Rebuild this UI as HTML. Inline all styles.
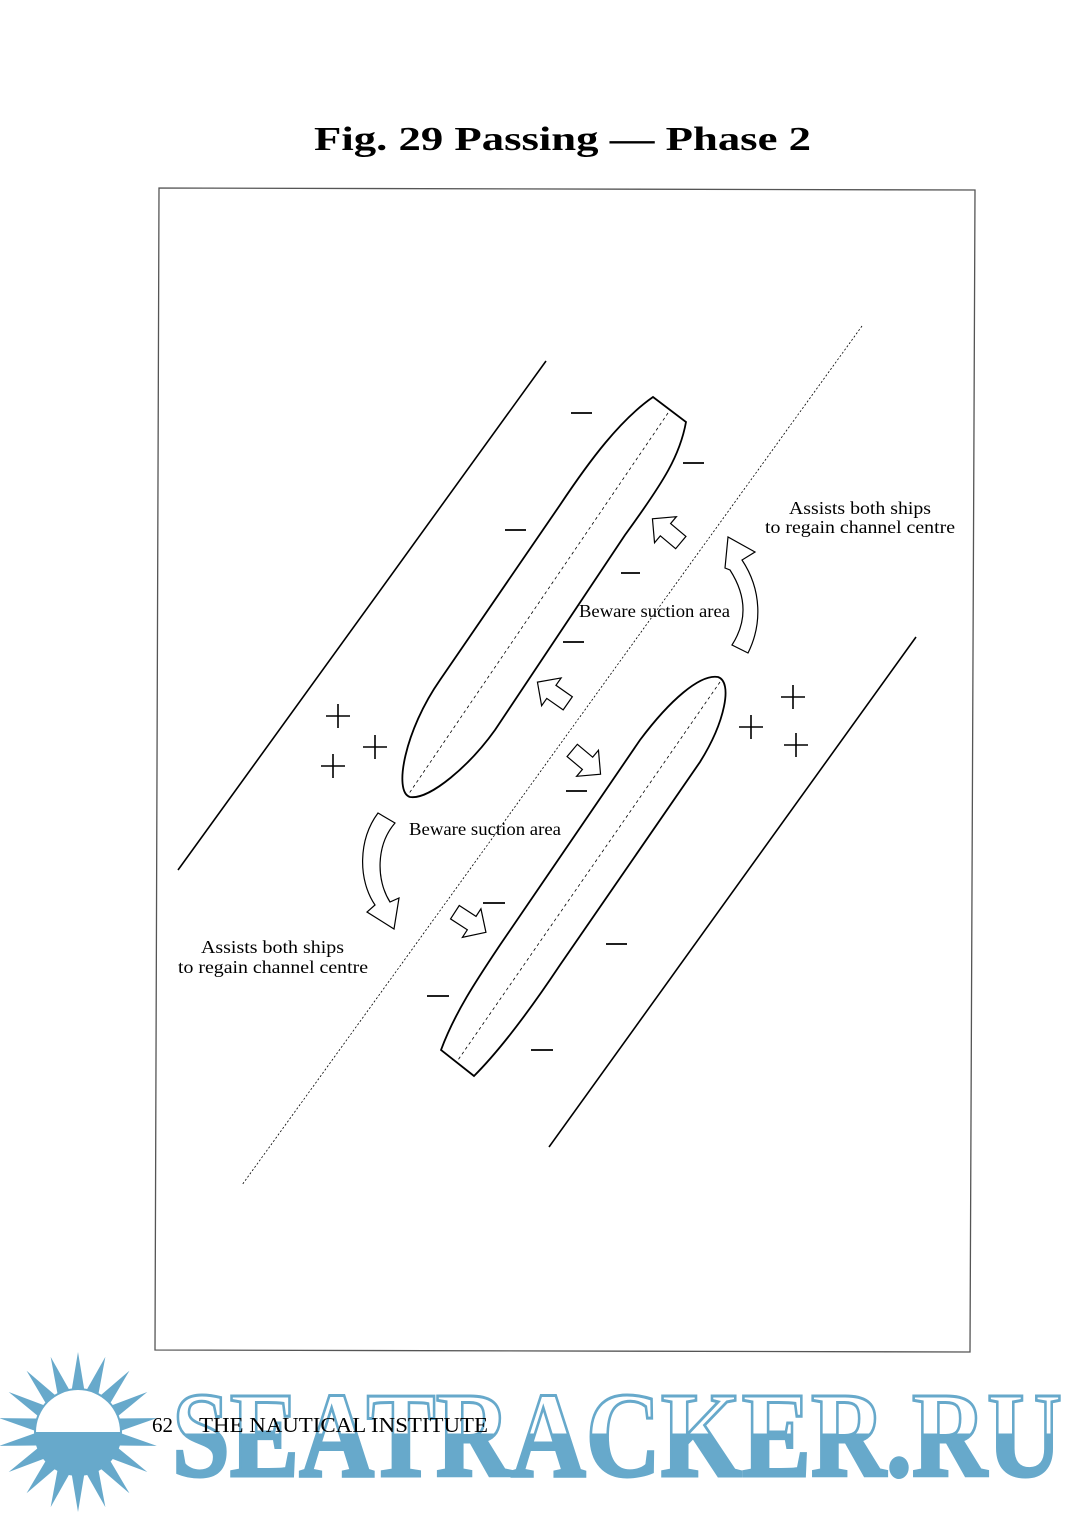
<!DOCTYPE html>
<html><head><meta charset="utf-8"><style>
html,body{margin:0;padding:0;background:#fff;}
svg{display:block;}
</style></head><body>
<svg width="1080" height="1513" viewBox="0 0 1080 1513" xmlns="http://www.w3.org/2000/svg">
<defs>
<linearGradient id="sg" x1="0" y1="1390" x2="0" y2="1477" gradientUnits="userSpaceOnUse">
<stop offset="0.5" stop-color="#fff"/><stop offset="0.5" stop-color="#67a9cb"/>
</linearGradient>
<path id="ba" d="M-18,-8 L2,-8 L2,-17 L19,0 L2,17 L2,8 L-18,8 Z" fill="#fff" stroke="#000" stroke-width="1.2"/>
</defs>
<text x="314" y="150" font-family="Liberation Serif, serif" font-weight="bold" font-size="34" textLength="497" lengthAdjust="spacingAndGlyphs">Fig. 29  Passing — Phase 2</text>
<path d="M159,188 L975,190 L970,1352 L155,1350 Z" fill="none" stroke="#555" stroke-width="1.3"/>
<line x1="546" y1="361" x2="178" y2="870" stroke="#000" stroke-width="1.6"/>
<line x1="916" y1="637" x2="549" y2="1147" stroke="#000" stroke-width="1.6"/>
<line x1="862" y1="326" x2="242" y2="1185" stroke="#000" stroke-width="0.8" stroke-dasharray="2,2"/>
<path d="M653,397 C620,420 590,460 560,505 L440,680 C405,730 393,792 410,797 C430,800 470,765 495,730 L625,535 C665,480 680,455 686,422 Z" fill="#fff" stroke="#000" stroke-width="1.8"/>
<line x1="668" y1="413" x2="408" y2="795" stroke="#000" stroke-width="0.8" stroke-dasharray="3,3"/>
<path d="M441,1050 C455,1012 478,978 500,945 L640,740 C670,700 700,674 718,677 C733,682 725,722 700,762 L560,965 C530,1010 500,1050 474,1076 Z" fill="#fff" stroke="#000" stroke-width="1.8"/>
<line x1="720" y1="682" x2="458" y2="1060" stroke="#000" stroke-width="0.8" stroke-dasharray="3,3"/>
<g stroke="#000" stroke-width="1.8">
<line x1="571" y1="413" x2="592" y2="413"/><line x1="683" y1="463" x2="704" y2="463"/>
<line x1="505" y1="530" x2="526" y2="530"/><line x1="621" y1="573" x2="640" y2="573"/>
<line x1="563" y1="642" x2="584" y2="642"/><line x1="566" y1="791" x2="587" y2="791"/>
<line x1="483" y1="903" x2="505" y2="903"/><line x1="606" y1="944" x2="627" y2="944"/>
<line x1="427" y1="996" x2="449" y2="996"/><line x1="531" y1="1050" x2="553" y2="1050"/>
</g>
<g stroke="#000" stroke-width="1.6">
<path d="M326,716h24M338,704v24"/><path d="M363,747h24M375,735v24"/><path d="M321,766h24M333,754v24"/>
<path d="M781,697h24M793,685v24"/><path d="M739,727h24M751,715v24"/><path d="M784,745h24M796,733v24"/>
</g>
<use href="#ba" transform="translate(667,531) rotate(-140)"/>
<use href="#ba" transform="translate(553,693) rotate(-145)"/>
<use href="#ba" transform="translate(586,762) rotate(40)"/>
<use href="#ba" transform="translate(470,922) rotate(33)"/>
<path d="M732,645 C748,620 746,595 730,570 L725,568 L728,537 L755,552 L742,560 C762,590 762,625 748,653 Z" fill="#fff" stroke="#000" stroke-width="1.2"/>
<path d="M378,813 C358,840 358,880 375,905 L367,912 L394,929 L399,898 L390,902 C376,880 376,845 395,823 Z" fill="#fff" stroke="#000" stroke-width="1.2"/>
<g font-family="Liberation Serif, serif" font-size="18" fill="#000">
<text x="789" y="514" textLength="142" lengthAdjust="spacingAndGlyphs">Assists both ships</text>
<text x="765" y="533" textLength="190" lengthAdjust="spacingAndGlyphs">to regain channel centre</text>
<text x="579" y="617" textLength="151" lengthAdjust="spacingAndGlyphs">Beware suction area</text>
<text x="409" y="835" textLength="152" lengthAdjust="spacingAndGlyphs">Beware suction area</text>
<text x="201" y="953" textLength="143" lengthAdjust="spacingAndGlyphs">Assists both ships</text>
<text x="178" y="973" textLength="190" lengthAdjust="spacingAndGlyphs">to regain channel centre</text>
</g>
<g fill="#67a9cb">
<g id="sp"><polygon points="78,1352 86,1400 70,1400"/></g>
<use href="#sp" transform="rotate(20 78 1432)"/><use href="#sp" transform="rotate(40 78 1432)"/>
<use href="#sp" transform="rotate(60 78 1432)"/><use href="#sp" transform="rotate(80 78 1432)"/>
<use href="#sp" transform="rotate(100 78 1432)"/><use href="#sp" transform="rotate(120 78 1432)"/>
<use href="#sp" transform="rotate(140 78 1432)"/><use href="#sp" transform="rotate(160 78 1432)"/>
<use href="#sp" transform="rotate(180 78 1432)"/><use href="#sp" transform="rotate(200 78 1432)"/>
<use href="#sp" transform="rotate(220 78 1432)"/><use href="#sp" transform="rotate(240 78 1432)"/>
<use href="#sp" transform="rotate(260 78 1432)"/><use href="#sp" transform="rotate(280 78 1432)"/>
<use href="#sp" transform="rotate(300 78 1432)"/><use href="#sp" transform="rotate(320 78 1432)"/>
<use href="#sp" transform="rotate(340 78 1432)"/>
<circle cx="78" cy="1432" r="44"/>
</g>
<path d="M36,1432 A42,42 0 0 1 120,1432 Z" fill="#fff"/>
<text x="172" y="1476" font-family="Liberation Serif, serif" font-weight="bold" font-size="122" textLength="890" lengthAdjust="spacingAndGlyphs" fill="url(#sg)" stroke="#67a9cb" stroke-width="3">SEATRACKER.RU</text>
<text x="152" y="1432" font-family="Liberation Serif, serif" font-size="21" fill="#000">62</text>
<text x="199" y="1432" font-family="Liberation Serif, serif" font-size="21" fill="#000" textLength="289" lengthAdjust="spacingAndGlyphs">THE NAUTICAL INSTITUTE</text>
</svg>
</body></html>
